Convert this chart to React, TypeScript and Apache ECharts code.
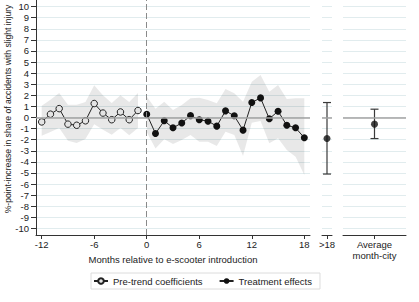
import React, { useEffect, useRef } from "react";
import * as echarts from "echarts";

const preMonths = [-12, -11, -10, -9, -8, -7, -6, -5, -4, -3, -2, -1];
const preCoef = [-0.4, 0.3, 0.8, -0.6, -0.7, -0.3, 1.26, 0.4, -0.2, 0.5, -0.2, 0.63];
const preUpper = [1.05, 1.6, 2.2, 1.15, 1.15, 1.4, 2.9, 2.0, 1.3, 2.0, 1.4, 2.2];
const preLower = [-1.65, -1.3, -0.95, -2.1, -2.3, -1.95, -0.6, -1.1, -1.55, -0.95, -1.6, -0.95];

const treatMonths = [0, 1, 2, 3, 4, 5, 6, 7, 8, 9, 10, 11, 12, 13, 14, 15, 16, 17, 18];
const treatCoef = [0.3, -1.45, -0.3, -0.93, -0.5, 0.17, -0.2, -0.33, -0.78, 0.6, 0.15, -1.14, 1.35, 1.77, -0.12, 0.57, -0.7, -0.93, -1.83];
const treatUpper = [1.9, 0.8, 1.43, 0.68, 1.13, 1.73, 1.79, 1.58, 1.28, 2.57, 2.18, 1.43, 3.23, 3.83, 2.33, 2.93, 1.67, 1.73, 1.73];
const treatLower = [-1.3, -2.8, -1.97, -2.4, -2.03, -1.58, -2.18, -2.18, -2.57, -1.28, -1.58, -3.47, -0.47, -0.32, -2.33, -1.88, -2.93, -3.54, -5.19];

const lateLabels = [">18"];
const lateCoef = [-1.9];
const lateLower = [-5.1];
const lateUpper = [1.35];

const avgLabels = ["Average\nmonth-city"];
const avgCoef = [-0.6];
const avgLower = [-1.9];
const avgUpper = [0.75];

const monthTicks = [-12, -6, 0, 6, 12, 18];
const yTicks = [-10, -9, -8, -7, -6, -5, -4, -3, -2, -1, 0, 1, 2, 3, 4, 5, 6, 7, 8, 9, 10];

const FONT = "'Liberation Sans', Arial, Helvetica, sans-serif";
const TXT = "#222";
const AX = "#333";
const GRIDC = "#e1ecee";
const ZERO = "#a3a3a3";
const BAND = "rgba(0,0,0,0.09)";
const FS = 9.5;

const Y_MIN = -10.6;
const Y_MAX = 10.6;

function bandRender(months: number[], lower: number[], upper: number[]) {
  return (params: any, api: any) => {
    if (params.dataIndex !== 0) return null;
    const pts: number[][] = [];
    for (let i = 0; i < months.length; i++) pts.push(api.coord([months[i], upper[i]]));
    for (let i = months.length - 1; i >= 0; i--) pts.push(api.coord([months[i], lower[i]]));
    return {
      type: "polygon",
      shape: { points: pts },
      style: { fill: BAND, stroke: null },
    };
  };
}

function errRender(params: any, api: any) {
  const x = api.value(0);
  const lo = api.coord([x, api.value(1)]);
  const hi = api.coord([x, api.value(2)]);
  const w = 4;
  const st = { stroke: "#3a3a3a", lineWidth: 1.2 };
  return {
    type: "group",
    children: [
      { type: "line", shape: { x1: lo[0], y1: lo[1], x2: hi[0], y2: hi[1] }, style: st },
      { type: "line", shape: { x1: lo[0] - w, y1: lo[1], x2: lo[0] + w, y2: lo[1] }, style: st },
      { type: "line", shape: { x1: hi[0] - w, y1: hi[1], x2: hi[0] + w, y2: hi[1] }, style: st },
    ],
  };
}

function yAxisFor(gridIndex: number, main: boolean) {
  return {
    type: "value",
    gridIndex,
    min: Y_MIN,
    max: Y_MAX,
    axisLine: { show: main, onZero: false, lineStyle: { color: AX, width: 1 } },
    axisTick: {
      show: main,
      length: 5,
      lineStyle: { color: AX, width: 1 },
      customValues: yTicks,
    },
    axisLabel: {
      show: main,
      margin: 7,
      fontSize: FS,
      color: TXT,
      fontFamily: FONT,
      customValues: yTicks,
    },
    splitLine: { show: true, lineStyle: { color: GRIDC, width: 1 } },
  };
}

const zeroMark = {
  silent: true,
  symbol: ["none", "none"],
  label: { show: false },
  lineStyle: { color: ZERO, width: 1.5, type: "solid" },
  data: [{ yAxis: 0 }],
};

export default function App() {
  const ref = useRef<HTMLDivElement>(null);
  useEffect(() => {
    if (!ref.current) return;
    const chart = echarts.init(ref.current, null, { renderer: "svg" });
    const option: any = {
      animation: false,
      backgroundColor: "#fff",
      textStyle: { fontFamily: FONT },
      grid: [
        { left: 36, top: 0, width: 274, height: 235, outerBoundsMode: "none" },
        { left: 322, top: 0, width: 10, height: 235, outerBoundsMode: "none" },
        { left: 343, top: 0, width: 63, height: 235, outerBoundsMode: "none" },
      ],
      xAxis: [
        {
          type: "value",
          gridIndex: 0,
          min: -12.65,
          max: 18.65,
          axisLine: { show: true, onZero: false, lineStyle: { color: AX, width: 1 } },
          axisTick: { show: true, length: 4, lineStyle: { color: AX }, customValues: monthTicks },
          axisLabel: { margin: 4.5, fontSize: FS, color: TXT, fontFamily: FONT, customValues: monthTicks },
          splitLine: { show: false },
          name: "Months relative to e-scooter introduction",
          nameLocation: "middle",
          nameGap: 14.5,
          nameTextStyle: { fontSize: FS, color: TXT, fontFamily: FONT },
        },
        {
          type: "category",
          gridIndex: 1,
          data: lateLabels,
          boundaryGap: true,
          axisLine: { show: true, onZero: false, lineStyle: { color: AX, width: 1 } },
          axisTick: { show: true, alignWithLabel: true, length: 4, lineStyle: { color: AX } },
          axisLabel: { margin: 4.5, fontSize: FS, color: TXT, fontFamily: FONT, interval: 0 },
          splitLine: { show: false },
        },
        {
          type: "category",
          gridIndex: 2,
          data: avgLabels,
          boundaryGap: true,
          axisLine: { show: true, onZero: false, lineStyle: { color: AX, width: 1 } },
          axisTick: { show: true, alignWithLabel: true, length: 4, lineStyle: { color: AX } },
          axisLabel: { margin: 4.5, fontSize: FS, lineHeight: 10.7, color: TXT, fontFamily: FONT, interval: 0 },
          splitLine: { show: false },
        },
      ],
      yAxis: [yAxisFor(0, true), yAxisFor(1, false), yAxisFor(2, false)],
      legend: {
        data: ["Pre-trend coefficients", "Treatment effects"],
        left: 91,
        top: 273,
        orient: "horizontal",
        itemWidth: 14,
        itemHeight: 7,
        itemGap: 16,
        padding: [3, 8, 3, 2],
        borderColor: "#dcdcdc",
        borderWidth: 1,
        textStyle: { fontSize: FS, color: TXT, fontFamily: FONT },
      },
      graphic: [
        {
          type: "text",
          x: 8,
          y: 109,
          rotation: Math.PI / 2,
          style: {
            text: "%-point-increase in share of accidents with slight injury",
            fontSize: 8.6,
            fontFamily: FONT,
            fill: TXT,
            textAlign: "center",
            textVerticalAlign: "middle",
          },
        },
      ],
      series: [
        {
          name: "preBand",
          type: "custom",
          xAxisIndex: 0,
          yAxisIndex: 0,
          silent: true,
          z: 1,
          renderItem: bandRender(preMonths, preLower, preUpper),
          encode: { x: 0, y: [1, 2] },
          data: preMonths.map((m, i) => [m, preLower[i], preUpper[i]]),
          markLine: {
            silent: true,
            symbol: ["none", "none"],
            label: { show: false },
            data: [
              { yAxis: 0, lineStyle: { color: ZERO, width: 1.5, type: "solid" } },
              { xAxis: 0, lineStyle: { color: "#8a8a8a", width: 1, type: [6, 3] } },
            ],
          },
        },
        {
          name: "treatBand",
          type: "custom",
          xAxisIndex: 0,
          yAxisIndex: 0,
          silent: true,
          z: 1,
          renderItem: bandRender(treatMonths, treatLower, treatUpper),
          encode: { x: 0, y: [1, 2] },
          data: treatMonths.map((m, i) => [m, treatLower[i], treatUpper[i]]),
        },
        {
          name: "Pre-trend coefficients",
          type: "line",
          xAxisIndex: 0,
          yAxisIndex: 0,
          z: 3,
          symbol: "circle",
          symbolSize: 6.5,
          showSymbol: true,
          itemStyle: { color: "#e4e4e4", borderColor: "#222", borderWidth: 1 },
          lineStyle: { color: "#222", width: 1 },
          data: preMonths.map((m, i) => [m, preCoef[i]]),
        },
        {
          name: "Treatment effects",
          type: "line",
          xAxisIndex: 0,
          yAxisIndex: 0,
          z: 3,
          symbol: "circle",
          symbolSize: 7,
          showSymbol: true,
          itemStyle: { color: "#111" },
          lineStyle: { color: "#222", width: 1 },
          data: treatMonths.map((m, i) => [m, treatCoef[i]]),
        },
        {
          name: "lateErr",
          type: "custom",
          xAxisIndex: 1,
          yAxisIndex: 1,
          z: 2,
          renderItem: errRender,
          encode: { x: 0, y: [1, 2] },
          data: lateLower.map((l, i) => [i, l, lateUpper[i]]),
          markLine: zeroMark,
        },
        {
          name: "latePt",
          type: "scatter",
          xAxisIndex: 1,
          yAxisIndex: 1,
          z: 3,
          symbolSize: 7,
          itemStyle: { color: "#111" },
          data: lateCoef.map((v, i) => [i, v]),
        },
        {
          name: "avgErr",
          type: "custom",
          xAxisIndex: 2,
          yAxisIndex: 2,
          z: 2,
          renderItem: errRender,
          encode: { x: 0, y: [1, 2] },
          data: avgLower.map((l, i) => [i, l, avgUpper[i]]),
          markLine: zeroMark,
        },
        {
          name: "avgPt",
          type: "scatter",
          xAxisIndex: 2,
          yAxisIndex: 2,
          z: 3,
          symbolSize: 7,
          itemStyle: { color: "#111" },
          data: avgCoef.map((v, i) => [i, v]),
        },
      ],
    };
    chart.setOption(option);
    return () => chart.dispose();
  }, []);
  return (
    <div
      ref={ref}
      style={{ position: "fixed", left: 0, top: 0, width: 419, height: 302, background: "#fff" }}
    />
  );
}
